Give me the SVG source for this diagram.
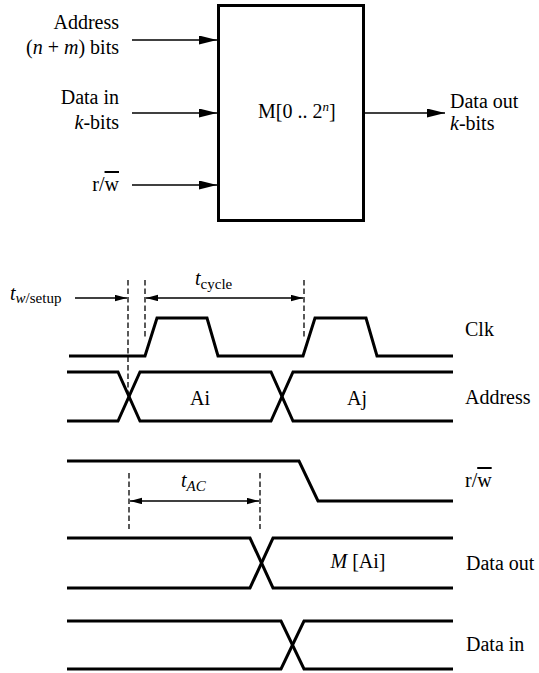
<svg xmlns="http://www.w3.org/2000/svg" width="539" height="673" viewBox="0 0 539 673">
<style>
text{font-family:"Liberation Serif","Times New Roman",serif;font-size:20px;fill:#000}
.sub{font-size:15px}
.it{font-style:italic}
.conn{stroke:#000;stroke-width:1.4;fill:none}
.sig{stroke:#000;stroke-width:3;fill:none;stroke-linejoin:miter}
.dash{stroke:#000;stroke-width:1.3;stroke-dasharray:5.5,3;fill:none}
.box{stroke:#000;stroke-width:3;fill:#fff}
</style>
<defs>
<marker id="big" markerUnits="userSpaceOnUse" markerWidth="18" markerHeight="10" refX="18" refY="4.5" orient="auto"><path d="M0,0 L18,4.5 L0,9 z" fill="#000"/></marker>
<marker id="sm" markerUnits="userSpaceOnUse" markerWidth="12" markerHeight="7" refX="12" refY="3.2" orient="auto-start-reverse"><path d="M0,0 L12,3.2 L0,6.4 z" fill="#000"/></marker>
</defs>
<rect width="539" height="673" fill="#fff"/>

<g id="memory">
<rect class="box" x="218.5" y="5.5" width="145" height="215"/>
<text x="258" y="118">M[0 .. 2<tspan class="it" font-size="13" dy="-7">n</tspan><tspan dy="7">]</tspan></text>
</g>
<g id="in-address">
<text x="119" y="29" text-anchor="end">Address</text>
<text x="119" y="54" text-anchor="end">(<tspan class="it">n</tspan> + <tspan class="it">m</tspan>) bits</text>
</g>
<g id="in-data">
<text x="119" y="104" text-anchor="end">Data in</text>
<text x="119" y="129" text-anchor="end"><tspan class="it">k</tspan>-bits</text>
</g>
<g id="in-rw">
<text x="119" y="191" text-anchor="end">r/<tspan text-decoration="overline">w</tspan></text>
</g>
<g id="out-data">
<text x="450" y="108">Data out</text>
<text x="450" y="130"><tspan class="it">k</tspan>-bits</text>
</g>
<g id="connectors">
<line class="conn" x1="132" y1="40" x2="217" y2="40" marker-end="url(#big)"/>
<line class="conn" x1="132" y1="113" x2="217" y2="113" marker-end="url(#big)"/>
<line class="conn" x1="132" y1="185" x2="217" y2="185" marker-end="url(#big)"/>
<line class="conn" x1="365" y1="113" x2="445" y2="113" marker-end="url(#big)"/>
</g>

<g id="timing-annotations">
<line class="dash" x1="128" y1="280" x2="128" y2="398"/>
<line class="dash" x1="145" y1="280" x2="145" y2="337"/>
<line class="dash" x1="304" y1="280" x2="304" y2="337"/>
<line class="dash" x1="129" y1="473" x2="129" y2="529"/>
<line class="dash" x1="260" y1="473" x2="260" y2="529"/>
<line class="conn" x1="75" y1="298" x2="127" y2="298" marker-end="url(#sm)"/>
<line class="conn" x1="146" y1="298" x2="303" y2="298" marker-start="url(#sm)" marker-end="url(#sm)"/>
<line class="conn" x1="130" y1="501" x2="259" y2="501" marker-start="url(#sm)" marker-end="url(#sm)"/>
<text x="10" y="300" class="it">t<tspan class="sub" dy="3">w</tspan><tspan class="sub" font-style="normal">/setup</tspan></text>
<text x="195" y="285" class="it">t<tspan class="sub" font-style="normal" dy="4">cycle</tspan></text>
<text x="181" y="487" class="it">t<tspan class="sub" dy="4">AC</tspan></text>
</g>

<g id="clk">
<polyline class="sig" points="69,356 145,356 157,318 207,318 218,356 303,356 315,318 366,318 377,356 453,356"/>
<text x="465" y="336">Clk</text>
</g>
<g id="address">
<polyline class="sig" points="67,372 118,372 140,421 271,421 293,372 453,372"/>
<polyline class="sig" points="67,421 118,421 140,372 271,372 293,421 453,421"/>
<text x="200" y="405" text-anchor="middle">Ai</text>
<text x="357" y="405" text-anchor="middle">Aj</text>
<text x="465" y="404">Address</text>
</g>
<g id="rw">
<polyline class="sig" points="67,461 299,461 318,501 453,501"/>
<text x="465" y="487">r/<tspan text-decoration="overline">w</tspan></text>
</g>
<g id="data-out">
<polyline class="sig" points="67,538 250,538 273,588 453,588"/>
<polyline class="sig" points="67,588 250,588 273,538 453,538"/>
<text x="358" y="568" text-anchor="middle"><tspan class="it">M</tspan> [Ai]</text>
<text x="466" y="570">Data out</text>
</g>
<g id="data-in">
<polyline class="sig" points="67,621 281,621 304,669 453,669"/>
<polyline class="sig" points="67,669 281,669 304,621 453,621"/>
<text x="466" y="651">Data in</text>
</g>
</svg>
